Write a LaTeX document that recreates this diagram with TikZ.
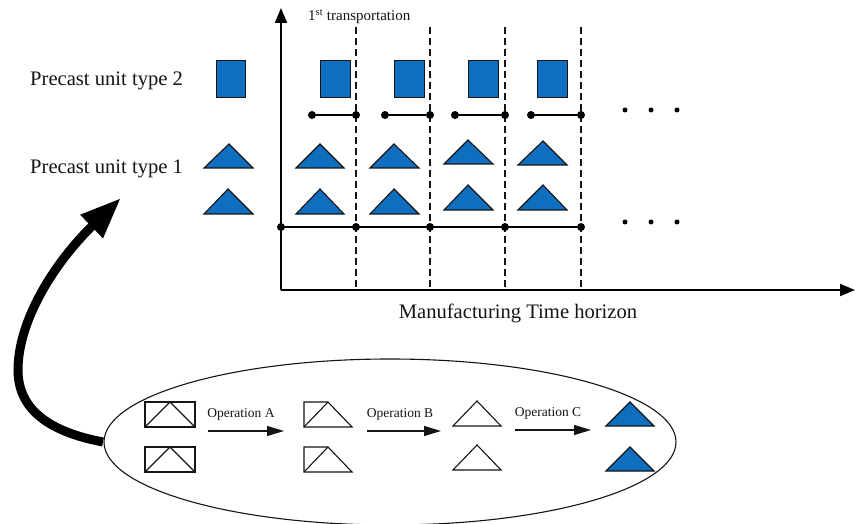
\documentclass[tikz,border=0pt]{standalone}
\usepackage{fontspec}
\setmainfont{Liberation Serif}
\usetikzlibrary{arrows.meta}
\definecolor{unitblue}{HTML}{0F6FBE}
\definecolor{inkk}{HTML}{151515}
\tikzset{
  x=1pt,y=-1pt,
  tri/.style={draw=inkk,line width=1.1pt,line join=miter},
  ftri/.style={tri,fill=unitblue},
  sq/.style={draw=inkk,line width=1pt,fill=unitblue},
  dashln/.style={draw=inkk,line width=1.2pt,dash pattern=on 7pt off 4pt},
  dot/.style={circle,fill=black,inner sep=0pt,minimum size=8pt},
  pdot/.style={circle,fill=black,inner sep=0pt,minimum size=5pt},
  lab/.style={font=\fontsize{20.6}{22}\selectfont,text=inkk,inner sep=0pt},
  oplab/.style={font=\fontsize{13.5}{15}\selectfont,text=inkk,inner sep=0pt},
  toplab/.style={font=\fontsize{15}{17}\selectfont,text=inkk,inner sep=0pt},
  tline/.style={draw=black,line width=1.6pt},
  oparrow/.style={draw=inkk,line width=1.1pt,-{Triangle[length=17pt,width=10pt]}},
  axis/.style={draw=black,line width=2pt,-{Triangle[length=15pt,width=12pt]}},
  bigarrow/.style={draw=black,line width=9pt,-{Triangle[length=41pt,width=30pt]}},
}
\begin{document}
\begin{tikzpicture}
\useasboundingbox (0,0) rectangle (855,524);
\fill[white] (0,0) rectangle (855,524);
% labels
\node[lab,anchor=west] (t2) at (30,81) {Precast unit type 2};
\node[lab,anchor=west] (t1) at (30,169) {Precast unit type 1};
\node[lab,anchor=center] (mt) at (518,313) {Manufacturing Time horizon};
\node[toplab,anchor=west] (tr) at (308,17) {1\textsuperscript{st} transportation};
% dashed
\foreach \x in {356,430,505,581} \draw[dashln] (\x,27) -- (\x,290);
% axes
\coordinate (o) at (281,290);
\coordinate (yt) at (281,8);
\coordinate (xt) at (855,290);
\draw[axis] (o) -- (yt);
\draw[axis] (o) -- (xt);
% squares
\foreach \a/\b in {216/245,320/350,394/424,468/498,537/567}
  \draw[sq] (\a,61) rectangle (\b,98);
% triangles
\foreach \l/\ax/\r/\t/\bb in {
 204/229/253/144/168, 204/228/253/189/214,
 296/320/344/144/168, 296/320/344/189/214,
 370/394/419/144/168, 370/394/419/189/214,
 444/468/493/140/164, 444/468/493/185/210,
 518/543/567/141/165, 518/543/567/185/210}
  \draw[ftri] (\l,\bb) -- (\ax,\t) -- (\r,\bb) -- cycle;
% time lines
\foreach \a/\b [count=\i] in {312/356,385/430,455/505,531/581}{
  \node[dot] (a\i) at (\a,115) {};
  \node[dot] (b\i) at (\b,115) {};
  \draw[tline] (a\i) -- (b\i);
}
\node[dot] (c1) at (281,227) {};
\node[dot] (c2) at (356,227) {};
\node[dot] (c3) at (430,227) {};
\node[dot] (c4) at (505,227) {};
\node[dot] (c5) at (581,227) {};
\draw[tline] (c1) -- (c5);
\foreach \x/\n in {625/p1,651/p2,677/p3} \node[pdot] (\n) at (\x,110) {};
\foreach \x/\n in {625/q1,651/q2,677/q3} \node[pdot] (\n) at (\x,222) {};
% ellipse
\draw[draw=inkk,line width=1.1pt] (390,442) ellipse [x radius=286,y radius=83];
\coordinate (el) at (103,442);
\coordinate (tip) at (121,198);
\draw[bigarrow] (el) .. controls (50,432) and (18,410) .. (18,370) .. controls (18,320) and (55,262) .. (tip);
% left rectangles
\foreach \y in {402,447}{
  \draw[tri] (145,\y) rectangle (195,\y+25);
  \draw[tri] (145,\y+25) -- (170,\y) -- (195,\y+25);
}
% middle
\foreach \y in {402,447}{
  \draw[tri] (304,\y+25) -- (304,\y) -- (328,\y) -- (352,\y+25) -- cycle;
  \draw[tri] (304,\y+25) -- (328,\y);
}
% triangles open
\foreach \y in {401,445}
  \draw[tri] (453,\y+25) -- (477,\y) -- (501,\y+25) -- cycle;
% final
\draw[ftri] (606,426) -- (630,402) -- (654,426) -- cycle;
\draw[ftri] (606,471) -- (630,447) -- (654,471) -- cycle;
% op labels
\node[oplab] (la) at (241,414) {Operation A};
\node[oplab] (lb) at (400,414) {Operation B};
\node[oplab] (lc) at (548,413) {Operation C};
\coordinate (a0) at (208,431);
\coordinate (a1) at (284,431);
\coordinate (b0) at (367,431);
\coordinate (b1) at (441,431);
\coordinate (c0) at (515,430);
\coordinate (c1e) at (591,430);
\draw[oparrow] (a0) -- (a1);
\draw[oparrow] (b0) -- (b1);
\draw[oparrow] (c0) -- (c1e);
\end{tikzpicture}
\end{document}
